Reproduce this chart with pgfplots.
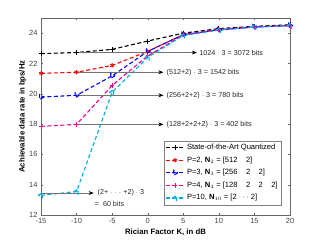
\documentclass[border=0pt]{standalone}
\usepackage{pgfplots}
\pgfplotsset{compat=1.18}
\usepackage{fontspec}
\setmainfont{Liberation Sans}
\usetikzlibrary{arrows.meta}
\begin{document}
\begin{tikzpicture}
\begin{axis}[
  scale only axis, width=249bp, height=197bp,
  xmin=-15, xmax=20, ymin=12, ymax=25,
  xtick={-15,-10,...,20}, ytick={12,14,...,24},
  tick label style={font=\fontsize{7.5}{8}\selectfont, text=black!75},
  /pgf/number format/assume math mode=true,
  axis line style={black!60}, tick style={black!60},
  tick align=inside, major tick length=2.5pt,
  xlabel={\textbf{Rician Factor K, in dB}},
  ylabel={\textbf{Achievable data rate in bps/Hz}},
  label style={font=\fontsize{7.8}{9}\selectfont},
  xlabel style={yshift=2pt},
  ylabel style={yshift=-4pt},
  legend style={at={(rel axis cs:0.965,0.05)}, anchor=south east,
    font=\fontsize{7.6}{9}\selectfont, draw=black!50, row sep=1.6pt,
    inner xsep=1.5pt, inner ysep=1.5pt},
  legend cell align=left,
  legend image code/.code={\draw[mark repeat=2,mark phase=2] plot coordinates {(0cm,0cm) (0.33cm,0cm) (0.66cm,0cm)};},
  every axis plot/.append style={dashed, line width=1.1pt, dash pattern=on 4pt off 2.5pt, mark options={solid, line width=0.8pt}},
]
\addplot[black, mark=+, mark size=2.5pt] coordinates {(-15,22.65) (-10,22.72) (-5,22.93) (0,23.48) (5,24.0) (10,24.3) (15,24.45) (20,24.55)};
\addlegendentry{State-of-the-Art Quantized}
\addplot[red, mark=asterisk, mark size=2.2pt] coordinates {(-15,21.35) (-10,21.42) (-5,21.87) (0,22.8) (5,23.9) (10,24.25) (15,24.42) (20,24.5)};
\addlegendentry{P=2, \textbf{N}$_2$ = [512 \ \ \ 2]}
\addplot[blue, mark=triangle, mark size=2.8pt, mark options={rotate=-90}] coordinates {(-15,19.78) (-10,19.9) (-5,21.18) (0,22.8) (5,23.9) (10,24.22) (15,24.4) (20,24.5)};
\addlegendentry{P=3, \textbf{N}$_3$ = [256 \ \ \ 2 \ \ \ 2]}
\addplot[magenta, mark=+, mark size=2.2pt] coordinates {(-15,17.85) (-10,17.98) (-5,20.55) (0,22.5) (5,23.88) (10,24.22) (15,24.4) (20,24.5)};
\addlegendentry{P=4, \textbf{N}$_4$ = [128 \ \ \ 2 \ \ \ 2 \ \ \ 2]}
\addplot[cyan, mark=triangle, mark size=2.8pt, mark options={rotate=90}] coordinates {(-15,13.3) (-10,13.55) (-5,20.1) (0,22.4) (5,23.85) (10,24.2) (15,24.4) (20,24.5)};
\addlegendentry{P=10, \textbf{N}$_{10}$ = [2 $\cdots$ 2]}
% annotations
\begin{scope}[every node/.style={font=\fontsize{7.2}{8}\selectfont, text=black!85, inner sep=1pt}]
\draw[black!55, line width=0.6pt, -{Stealth[black, length=5pt, width=4pt]}] (axis cs:-10,22.72) -- (axis cs:6.9,22.72);
\node[anchor=west] at (axis cs:7.1,22.72) {1024 $\cdot$ 3 = 3072 bits};
\draw[black!55, line width=0.6pt, -{Stealth[black, length=5pt, width=4pt]}] (axis cs:-10,21.42) -- (axis cs:2.2,21.42);
\node[anchor=west] at (axis cs:2.5,21.42) {(512+2) $\cdot$ 3 = 1542 bits};
\draw[black!55, line width=0.6pt, -{Stealth[black, length=5pt, width=4pt]}] (axis cs:-10,19.9) -- (axis cs:2.2,19.9);
\node[anchor=west] at (axis cs:2.5,19.9) {(256+2+2) $\cdot$ 3 = 780 bits};
\draw[black!55, line width=0.6pt, -{Stealth[black, length=5pt, width=4pt]}] (axis cs:-10,17.98) -- (axis cs:2.2,17.98);
\node[anchor=west] at (axis cs:2.5,17.98) {(128+2+2+2) $\cdot$ 3 = 402 bits};
\draw[black!55, line width=0.6pt, -{Stealth[black, length=5pt, width=4pt]}] (axis cs:-15,13.45) -- (axis cs:-7.6,13.45);
\node[anchor=west] at (axis cs:-7.2,13.5) {(2+ $\cdot$ $\cdot$ $\cdot$ +2) $\cdot$ 3};
\node[anchor=west] at (axis cs:-7.6,12.75) {= \ 60 bits};
\end{scope}
\end{axis}
\pgfresetboundingbox
\path (-41bp,-27bp) rectangle (280bp,215bp);
\end{tikzpicture}
\end{document}
